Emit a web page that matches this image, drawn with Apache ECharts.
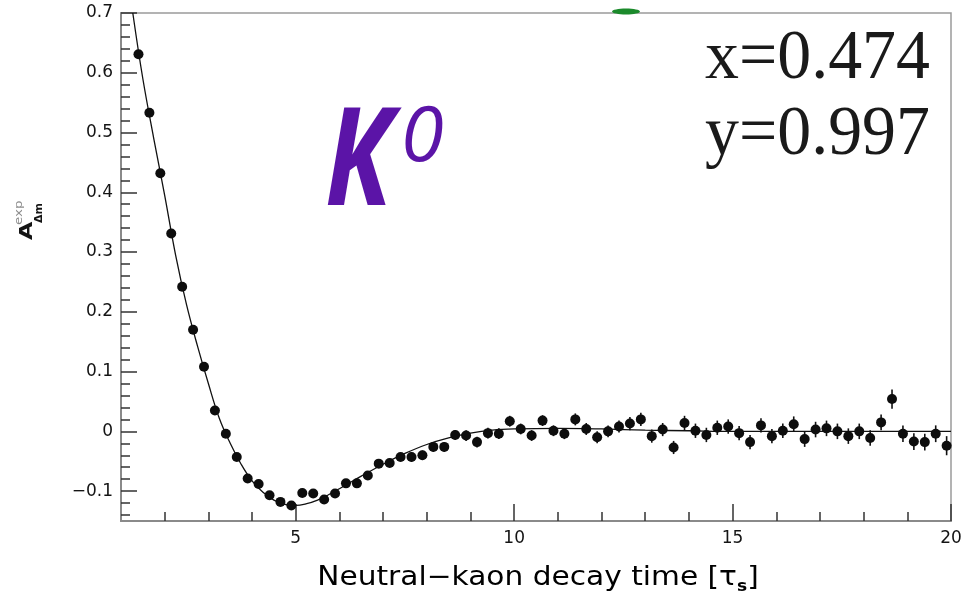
<!DOCTYPE html>
<html>
<head>
<meta charset="utf-8">
<script src="https://cdn.jsdelivr.net/npm/echarts@6/dist/echarts.min.js"></script>
<style>
  html, body { margin: 0; padding: 0; background: #ffffff; }
  #chart { width: 965px; height: 604px; }
</style>
</head>
<body>
<div id="chart"></div>
<script>
// Neutral-kaon decay-time bins (units of tau_S)
const decayTime = [
  1.4, 1.65, 1.9, 2.15, 2.4, 2.65, 2.9, 3.15, 3.4, 3.65,
  3.9, 4.15, 4.4, 4.65, 4.9, 5.15, 5.4, 5.65, 5.9, 6.15,
  6.4, 6.65, 6.9, 7.15, 7.4, 7.65, 7.9, 8.15, 8.4, 8.65,
  8.9, 9.15, 9.4, 9.65, 9.9, 10.15, 10.4, 10.65, 10.9, 11.15,
  11.4, 11.65, 11.9, 12.15, 12.4, 12.65, 12.9, 13.15, 13.4, 13.65,
  13.9, 14.15, 14.4, 14.65, 14.9, 15.15, 15.4, 15.65, 15.9, 16.15,
  16.4, 16.65, 16.9, 17.15, 17.4, 17.65, 17.9, 18.15, 18.4, 18.65,
  18.9, 19.15, 19.4, 19.65, 19.9
];

// Measured asymmetry in each bin
const asymmetry = [
  0.631, 0.533, 0.432, 0.331, 0.242, 0.170, 0.108, 0.035, -0.004, -0.043,
  -0.079, -0.088, -0.107, -0.118, -0.124, -0.103, -0.104, -0.114, -0.104, -0.087,
  -0.087, -0.074, -0.054, -0.053, -0.043, -0.043, -0.040, -0.026, -0.026, -0.006,
  -0.007, -0.018, -0.003, -0.004, 0.017, 0.004, -0.007, 0.018, 0.001, -0.004,
  0.020, 0.004, -0.010, 0.000, 0.008, 0.013, 0.020, -0.008, 0.003, -0.027,
  0.014, 0.001, -0.006, 0.006, 0.008, -0.003, -0.018, 0.010, -0.008, 0.001,
  0.012, -0.013, 0.003, 0.005, 0.000, -0.008, 0.000, -0.011, 0.015, 0.054,
  -0.004, -0.017, -0.018, -0.004, -0.024
];

// Statistical uncertainty on each bin
const asymErr = [
  0.005, 0.005, 0.005, 0.005, 0.005, 0.005, 0.005, 0.005, 0.005, 0.005,
  0.005, 0.005, 0.005, 0.005, 0.005, 0.007, 0.007, 0.007, 0.007, 0.007,
  0.007, 0.007, 0.007, 0.007, 0.007, 0.008, 0.008, 0.008, 0.008, 0.008,
  0.009, 0.009, 0.009, 0.009, 0.009, 0.009, 0.009, 0.009, 0.009, 0.009,
  0.010, 0.010, 0.010, 0.010, 0.010, 0.011, 0.011, 0.011, 0.011, 0.011,
  0.012, 0.012, 0.012, 0.012, 0.012, 0.012, 0.012, 0.012, 0.012, 0.012,
  0.013, 0.013, 0.013, 0.013, 0.013, 0.013, 0.013, 0.013, 0.013, 0.016,
  0.014, 0.014, 0.014, 0.014, 0.016
];

// Fitted curve
const fitTime = [
  1.27, 1.5, 1.75, 2.0, 2.25, 2.5, 2.75, 3.0, 3.25, 3.5,
  3.75, 4.0, 4.25, 4.5, 4.75, 5.0, 5.25, 5.5, 5.75, 6.0,
  6.5, 7.0, 7.5, 8.0, 8.5, 9.0, 9.5, 10.0, 11.0, 12.0,
  13.0, 14.0, 15.0, 17.0, 20.0
];
const fitValue = [
  0.700, 0.590, 0.490, 0.395, 0.295, 0.212, 0.143, 0.080, 0.022, -0.020,
  -0.055, -0.083, -0.102, -0.115, -0.122, -0.124, -0.121, -0.115, -0.106, -0.096,
  -0.075, -0.055, -0.037, -0.022, -0.011, -0.003, 0.002, 0.004, 0.005, 0.004,
  0.002, 0.001, 0.000, 0.000, 0.000
];

// Tick positions and labels
const xMajorTicks = [5, 10, 15, 20];
const xMinorTicks = [2, 3, 4, 6, 7, 8, 9, 11, 12, 13, 14, 16, 17, 18, 19];
const yMajorTicks = [-0.1, 0, 0.1, 0.2, 0.3, 0.4, 0.5, 0.6, 0.7];
const yMinorTicks = [
  -0.14, -0.12, -0.08, -0.06, -0.04, -0.02,
  0.02, 0.04, 0.06, 0.08, 0.12, 0.14, 0.16, 0.18,
  0.22, 0.24, 0.26, 0.28, 0.32, 0.34, 0.36, 0.38,
  0.42, 0.44, 0.46, 0.48, 0.52, 0.54, 0.56, 0.58,
  0.62, 0.64, 0.66, 0.68
];

const LABEL_FONT = 'DejaVu Sans';
const TICK_COLOR = '#333333';
const AXIS_COLOR = '#8a8a8a';
const TEXT_COLOR = '#141414';

function yLabel(v) {
  if (Math.abs(v) < 1e-9) return '0';
  const s = v.toFixed(1);
  return v < 0 ? '\u2212' + s.slice(1) : s;
}

const chart = echarts.init(document.getElementById('chart'), null, { renderer: 'canvas' });

const baseX = { type: 'value', min: 1, max: 20, position: 'bottom', splitLine: { show: false } };
const baseY = { type: 'value', min: -0.15, max: 0.7, position: 'left', splitLine: { show: false } };

chart.setOption({
  animation: false,
  backgroundColor: '#ffffff',
  grid: {
    left: 121, right: 14, top: 13, bottom: 83,
    show: true, borderColor: '#9a9a9a', borderWidth: 1.5, backgroundColor: 'transparent'
  },
  xAxis: [
    Object.assign({}, baseX, {
      axisLine: { show: true, onZero: false, lineStyle: { color: AXIS_COLOR, width: 2 } },
      axisTick: { show: true, inside: true, length: 17, customValues: xMajorTicks, lineStyle: { color: TICK_COLOR, width: 1.5 } },
      axisLabel: { show: true, customValues: xMajorTicks, margin: 9, fontFamily: LABEL_FONT, fontSize: 17, color: TEXT_COLOR }
    }),
    Object.assign({}, baseX, {
      axisLine: { show: false, onZero: false },
      axisTick: { show: true, inside: true, length: 9, customValues: xMinorTicks, lineStyle: { color: TICK_COLOR, width: 1.5 } },
      axisLabel: { show: false }
    })
  ],
  yAxis: [
    Object.assign({}, baseY, {
      axisLine: { show: true, onZero: false, lineStyle: { color: AXIS_COLOR, width: 2 } },
      axisTick: { show: true, inside: true, length: 16, customValues: yMajorTicks, lineStyle: { color: TICK_COLOR, width: 1.5 } },
      axisLabel: { show: true, customValues: yMajorTicks, margin: 8, formatter: yLabel, fontFamily: LABEL_FONT, fontSize: 17, color: TEXT_COLOR }
    }),
    Object.assign({}, baseY, {
      axisLine: { show: false, onZero: false },
      axisTick: { show: true, inside: true, length: 9, customValues: yMinorTicks, lineStyle: { color: TICK_COLOR, width: 1.5 } },
      axisLabel: { show: false }
    })
  ],
  series: [
    {
      name: 'fit',
      type: 'line',
      xAxisIndex: 0, yAxisIndex: 0,
      data: fitTime.map((t, i) => [t, fitValue[i]]),
      smooth: 0.4,
      showSymbol: false,
      clip: true,
      lineStyle: { color: '#111111', width: 1.3 },
      z: 2
    },
    {
      name: 'errors',
      type: 'custom',
      xAxisIndex: 0, yAxisIndex: 0,
      data: decayTime.map((t, i) => [t, asymmetry[i], asymErr[i]]),
      renderItem: function (params, api) {
        const x = api.value(0), y = api.value(1), e = api.value(2);
        const p1 = api.coord([x, y + e]);
        const p2 = api.coord([x, y - e]);
        return {
          type: 'line',
          shape: { x1: p1[0], y1: p1[1], x2: p2[0], y2: p2[1] },
          style: { stroke: '#111111', lineWidth: 1.6 }
        };
      },
      z: 3
    },
    {
      name: 'data',
      type: 'scatter',
      xAxisIndex: 0, yAxisIndex: 0,
      data: decayTime.map((t, i) => [t, asymmetry[i]]),
      symbol: 'circle',
      symbolSize: 10,
      itemStyle: { color: '#0d0d0d', opacity: 1 },
      z: 4
    }
  ],
  graphic: [
    // x-axis title
    {
      type: 'text', x: 538, y: 578, scaleX: 1.14,
      style: {
        text: '{m|Neutral\u2212kaon decay time [\u03C4}{s|s}{m|]}',
        textAlign: 'center', textVerticalAlign: 'middle',
        rich: {
          m: { fontFamily: LABEL_FONT, fontSize: 26, lineHeight: 34, color: TEXT_COLOR, verticalAlign: 'middle' },
          s: { fontFamily: LABEL_FONT, fontSize: 15, lineHeight: 34, color: TEXT_COLOR, fontWeight: 'bold', verticalAlign: 'bottom' }
        }
      }
    },
    // y-axis title, rotated
    {
      type: 'group', x: 35, y: 240, rotation: Math.PI / 2,
      children: [
        { type: 'text', x: 0, y: 1, scaleX: 1.4,
          style: { text: 'A', fontFamily: LABEL_FONT, fontSize: 17, fontWeight: 'bold', fill: TEXT_COLOR, textAlign: 'left', textVerticalAlign: 'bottom' } },
        { type: 'text', x: 17, y: -1,
          style: { text: '\u0394m', fontFamily: LABEL_FONT, fontSize: 11, fontWeight: 'bold', fill: TEXT_COLOR, textAlign: 'left', textVerticalAlign: 'top' } },
        { type: 'text', x: 15, y: -11, scaleX: 1.35,
          style: { text: 'exp', fontFamily: LABEL_FONT, fontSize: 10, fill: '#8c8c8c', textAlign: 'left', textVerticalAlign: 'bottom' } }
      ]
    },
    // particle label
    {
      type: 'text', x: 325, y: 166, scaleX: 0.8,
      style: { text: 'K', fontFamily: 'Open Sans', fontStyle: 'italic', fontWeight: 'bold', fontSize: 136, fill: '#5b14a7', textAlign: 'left', textVerticalAlign: 'middle' }
    },
    {
      type: 'text', x: 401, y: 139, scaleX: 1.02,
      style: { text: '0', fontFamily: 'Open Sans', fontStyle: 'italic', fontSize: 76, fill: '#5b14a7', textAlign: 'left', textVerticalAlign: 'middle' }
    },
    // mixing parameters
    {
      type: 'text', x: 705, y: 60, scaleX: 0.97,
      style: { text: 'x=0.474', fontFamily: 'Liberation Serif', fontSize: 70, fill: '#1a1a1a', textAlign: 'left', textVerticalAlign: 'middle' }
    },
    {
      type: 'text', x: 705, y: 136, scaleX: 0.97,
      style: { text: 'y=0.997', fontFamily: 'Liberation Serif', fontSize: 70, fill: '#1a1a1a', textAlign: 'left', textVerticalAlign: 'middle' }
    },
    // small green marker on the top frame
    {
      type: 'ellipse', shape: { cx: 626, cy: 11.5, rx: 14, ry: 3 },
      style: { fill: '#1b8a2b' }, z: 10
    }
  ]
});
</script>
</body>
</html>
